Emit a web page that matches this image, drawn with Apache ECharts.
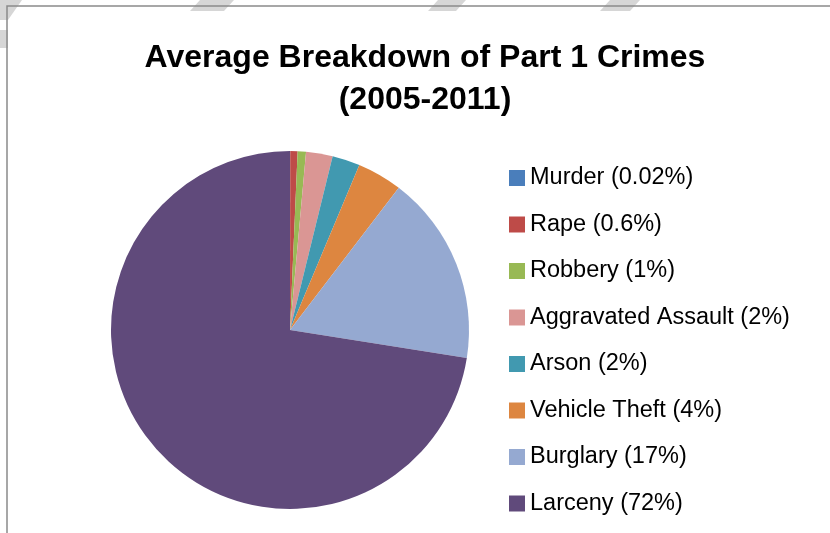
<!DOCTYPE html>
<html>
<head>
<meta charset="utf-8">
<script src="https://cdn.jsdelivr.net/npm/echarts@6/dist/echarts.min.js"></script>
<style>html,body{margin:0;padding:0;background:#fff}#c{width:830px;height:533px}</style>
</head>
<body>
<div id="c"></div>
<script>
const titleLines = ['Average Breakdown of Part 1 Crimes', '(2005-2011)'];
const categories = ['Murder (0.02%)', 'Rape (0.6%)', 'Robbery (1%)', 'Aggravated Assault (2%)', 'Arson (2%)', 'Vehicle Theft (4%)', 'Burglary (17%)', 'Larceny (72%)'];
const values = [0.02, 0.66, 0.75, 2.4, 2.5, 4.06, 17.1, 72.5];
const colors = ['#4A7EBB', '#BE4B48', '#98B954', '#DA9694', '#4199B0', '#DD8640', '#95A9D1', '#604A7B'];

const chart = echarts.init(document.getElementById('c'), null, {renderer: 'canvas'});
const stripe = (x, y, w, h, d) => ({
  type: 'polygon', silent: true,
  shape: {points: [[x, y], [x + w, y], [x + w - d, y + h], [x - d, y + h]]},
  style: {fill: '#d6d6d6'}
});
chart.setOption({
  animation: false,
  title: {
    text: titleLines.join('\n'),
    left: 420,
    textAlign: 'center',
    top: 32,
    textStyle: {fontFamily: 'Liberation Sans', fontWeight: 'bold', fontSize: 32, color: '#000', lineHeight: 42}
  },
  legend: {
    orient: 'vertical',
    left: 509,
    top: 166,
    padding: 0,
    itemWidth: 16,
    itemHeight: 16,
    itemGap: 22.5,
    icon: 'rect',
    selectedMode: false,
    textStyle: {fontFamily: 'Liberation Sans', fontSize: 23.5, color: '#000'}
  },
  graphic: [
    stripe(0, 0, 22, 20, 14),
    stripe(0, 30, 8, 18, 0),
    stripe(200, 0, 34, 11, 10),
    stripe(438, 0, 28, 11, 10),
    stripe(610, 0, 30, 11, 10),
    {type: 'rect', silent: true, shape: {x: 7, y: 6, width: 900, height: 600},
     style: {fill: null, stroke: '#8a8a8a', lineWidth: 1.5}}
  ],
  series: [{
    type: 'pie',
    center: [290, 330],
    radius: 179,
    startAngle: 90,
    clockwise: true,
    label: {show: false},
    labelLine: {show: false},
    itemStyle: {borderWidth: 0},
    emphasis: {disabled: true},
    data: categories.map((n, i) => ({name: n, value: values[i], itemStyle: {color: colors[i]}}))
  }]
});
</script>
</body>
</html>
